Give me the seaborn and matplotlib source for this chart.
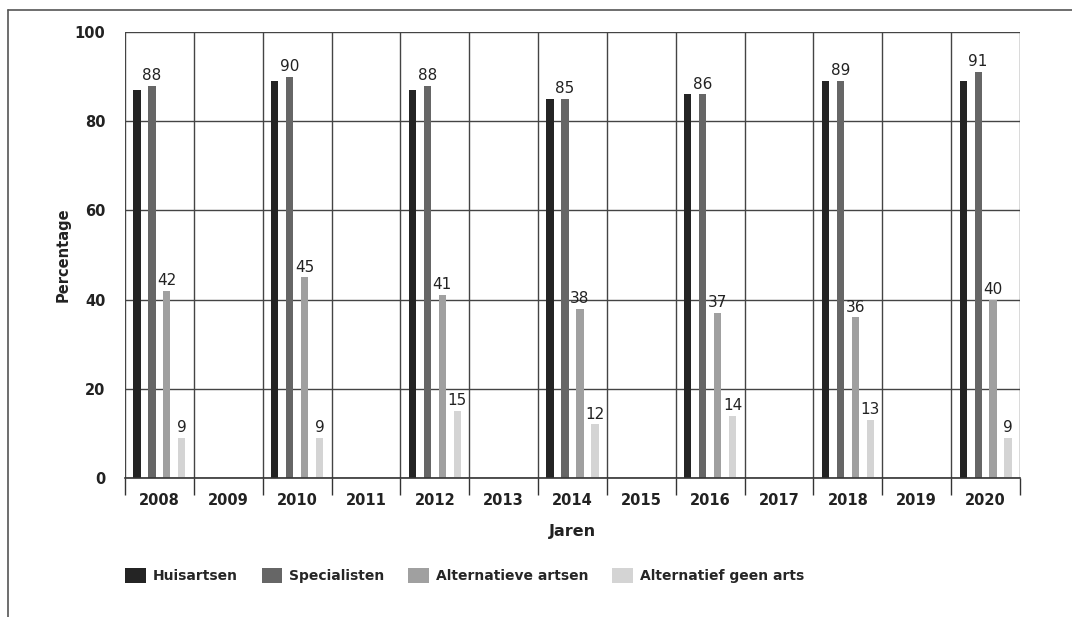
import numpy as np
import pandas as pd
import seaborn as sns
import matplotlib.pyplot as plt
from matplotlib.lines import Line2D


YEARS = [str(y) for y in range(2008, 2021)]
DATA_YEARS = ["2008", "2010", "2012", "2014", "2016", "2018", "2020"]
SERIES = ["Huisartsen", "Specialisten", "Alternatieve artsen", "Alternatief geen arts"]
COLORS = ["#242424", "#666666", "#a0a0a0", "#d4d4d4"]

huisartsen = [87, 89, 87, 85, 86, 89, 89]
specialisten = [88, 90, 88, 85, 86, 89, 91]
alternatieve_artsen = [42, 45, 41, 38, 37, 36, 40]
geen_arts = [9, 9, 15, 12, 14, 13, 9]


def build_frame():
  rows = []
  for name, vals in zip(SERIES, [huisartsen, specialisten, alternatieve_artsen, geen_arts]):
    for year, v in zip(DATA_YEARS, vals):
      rows.append({"Jaar": year, "Groep": name, "Percentage": v})
  return pd.DataFrame(rows)


def main():
  sns.set_style("white")
  plt.rcParams["font.family"] = ["DejaVu Sans"]

  df = build_frame()

  fig = plt.figure(figsize=(10.72, 6.17), dpi=100)
  ax = fig.add_axes([0.1166, 0.2253, 0.8349, 0.7228])

  sns.barplot(data=df, x="Jaar", y="Percentage", hue="Groep", order=YEARS,
              hue_order=SERIES, palette=COLORS, width=0.87, gap=0.52,
              saturation=1, errorbar=None, linewidth=0, ax=ax)

  # value labels, not for the first series
  for cont in ax.containers[1:]:
    ax.bar_label(cont, fmt="%d", padding=2, fontsize=11, color="#222222")

  ax.set_ylim(0, 100)
  ax.set_xlim(-0.5, len(YEARS) - 0.5)
  ax.set_yticks([0, 20, 40, 60, 80, 100])
  ax.yaxis.grid(True, color="#444444", linewidth=1.0)
  ax.set_axisbelow(True)

  # vertical separators between the years
  for b in np.arange(-0.5, len(YEARS), 1.0):
    ax.axvline(b, color="#444444", linewidth=1.0, zorder=0.5)
  ax.set_xticks(np.arange(-0.5, len(YEARS), 1.0), minor=True)
  ax.tick_params(axis="x", which="minor", bottom=True, length=12, width=1.0, color="#333333")
  ax.tick_params(axis="x", which="major", length=0, pad=11)
  ax.tick_params(axis="y", length=0, pad=14)

  for lab in ax.get_xticklabels() + ax.get_yticklabels():
    lab.set_fontweight("bold")
    lab.set_fontsize(10.5)
    lab.set_color("#222222")

  for s in ["top", "right", "left"]:
    ax.spines[s].set_visible(False)
  ax.spines["bottom"].set_color("#333333")
  ax.spines["bottom"].set_linewidth(1.2)

  ax.set_xlabel("Jaren", fontsize=11.5, fontweight="bold", labelpad=11, color="#222222")
  ax.set_ylabel("Percentage", fontsize=10.5, fontweight="bold", labelpad=3, color="#222222")

  ax.legend(loc="upper left", bbox_to_anchor=(-0.006, -0.19), ncol=4, frameon=False,
            handlelength=1.5, handleheight=1.2, columnspacing=1.7, handletextpad=0.5,
            prop={"weight": "bold", "size": 10}, borderaxespad=0)

  # partial frame around the figure
  fig.add_artist(Line2D([0.0075, 1.0], [0.984, 0.984], color="#555555", linewidth=1.2))
  fig.add_artist(Line2D([0.0075, 0.0075], [0.0, 0.984], color="#555555", linewidth=1.2))

  fig.savefig("out.png", dpi=100)


main()
